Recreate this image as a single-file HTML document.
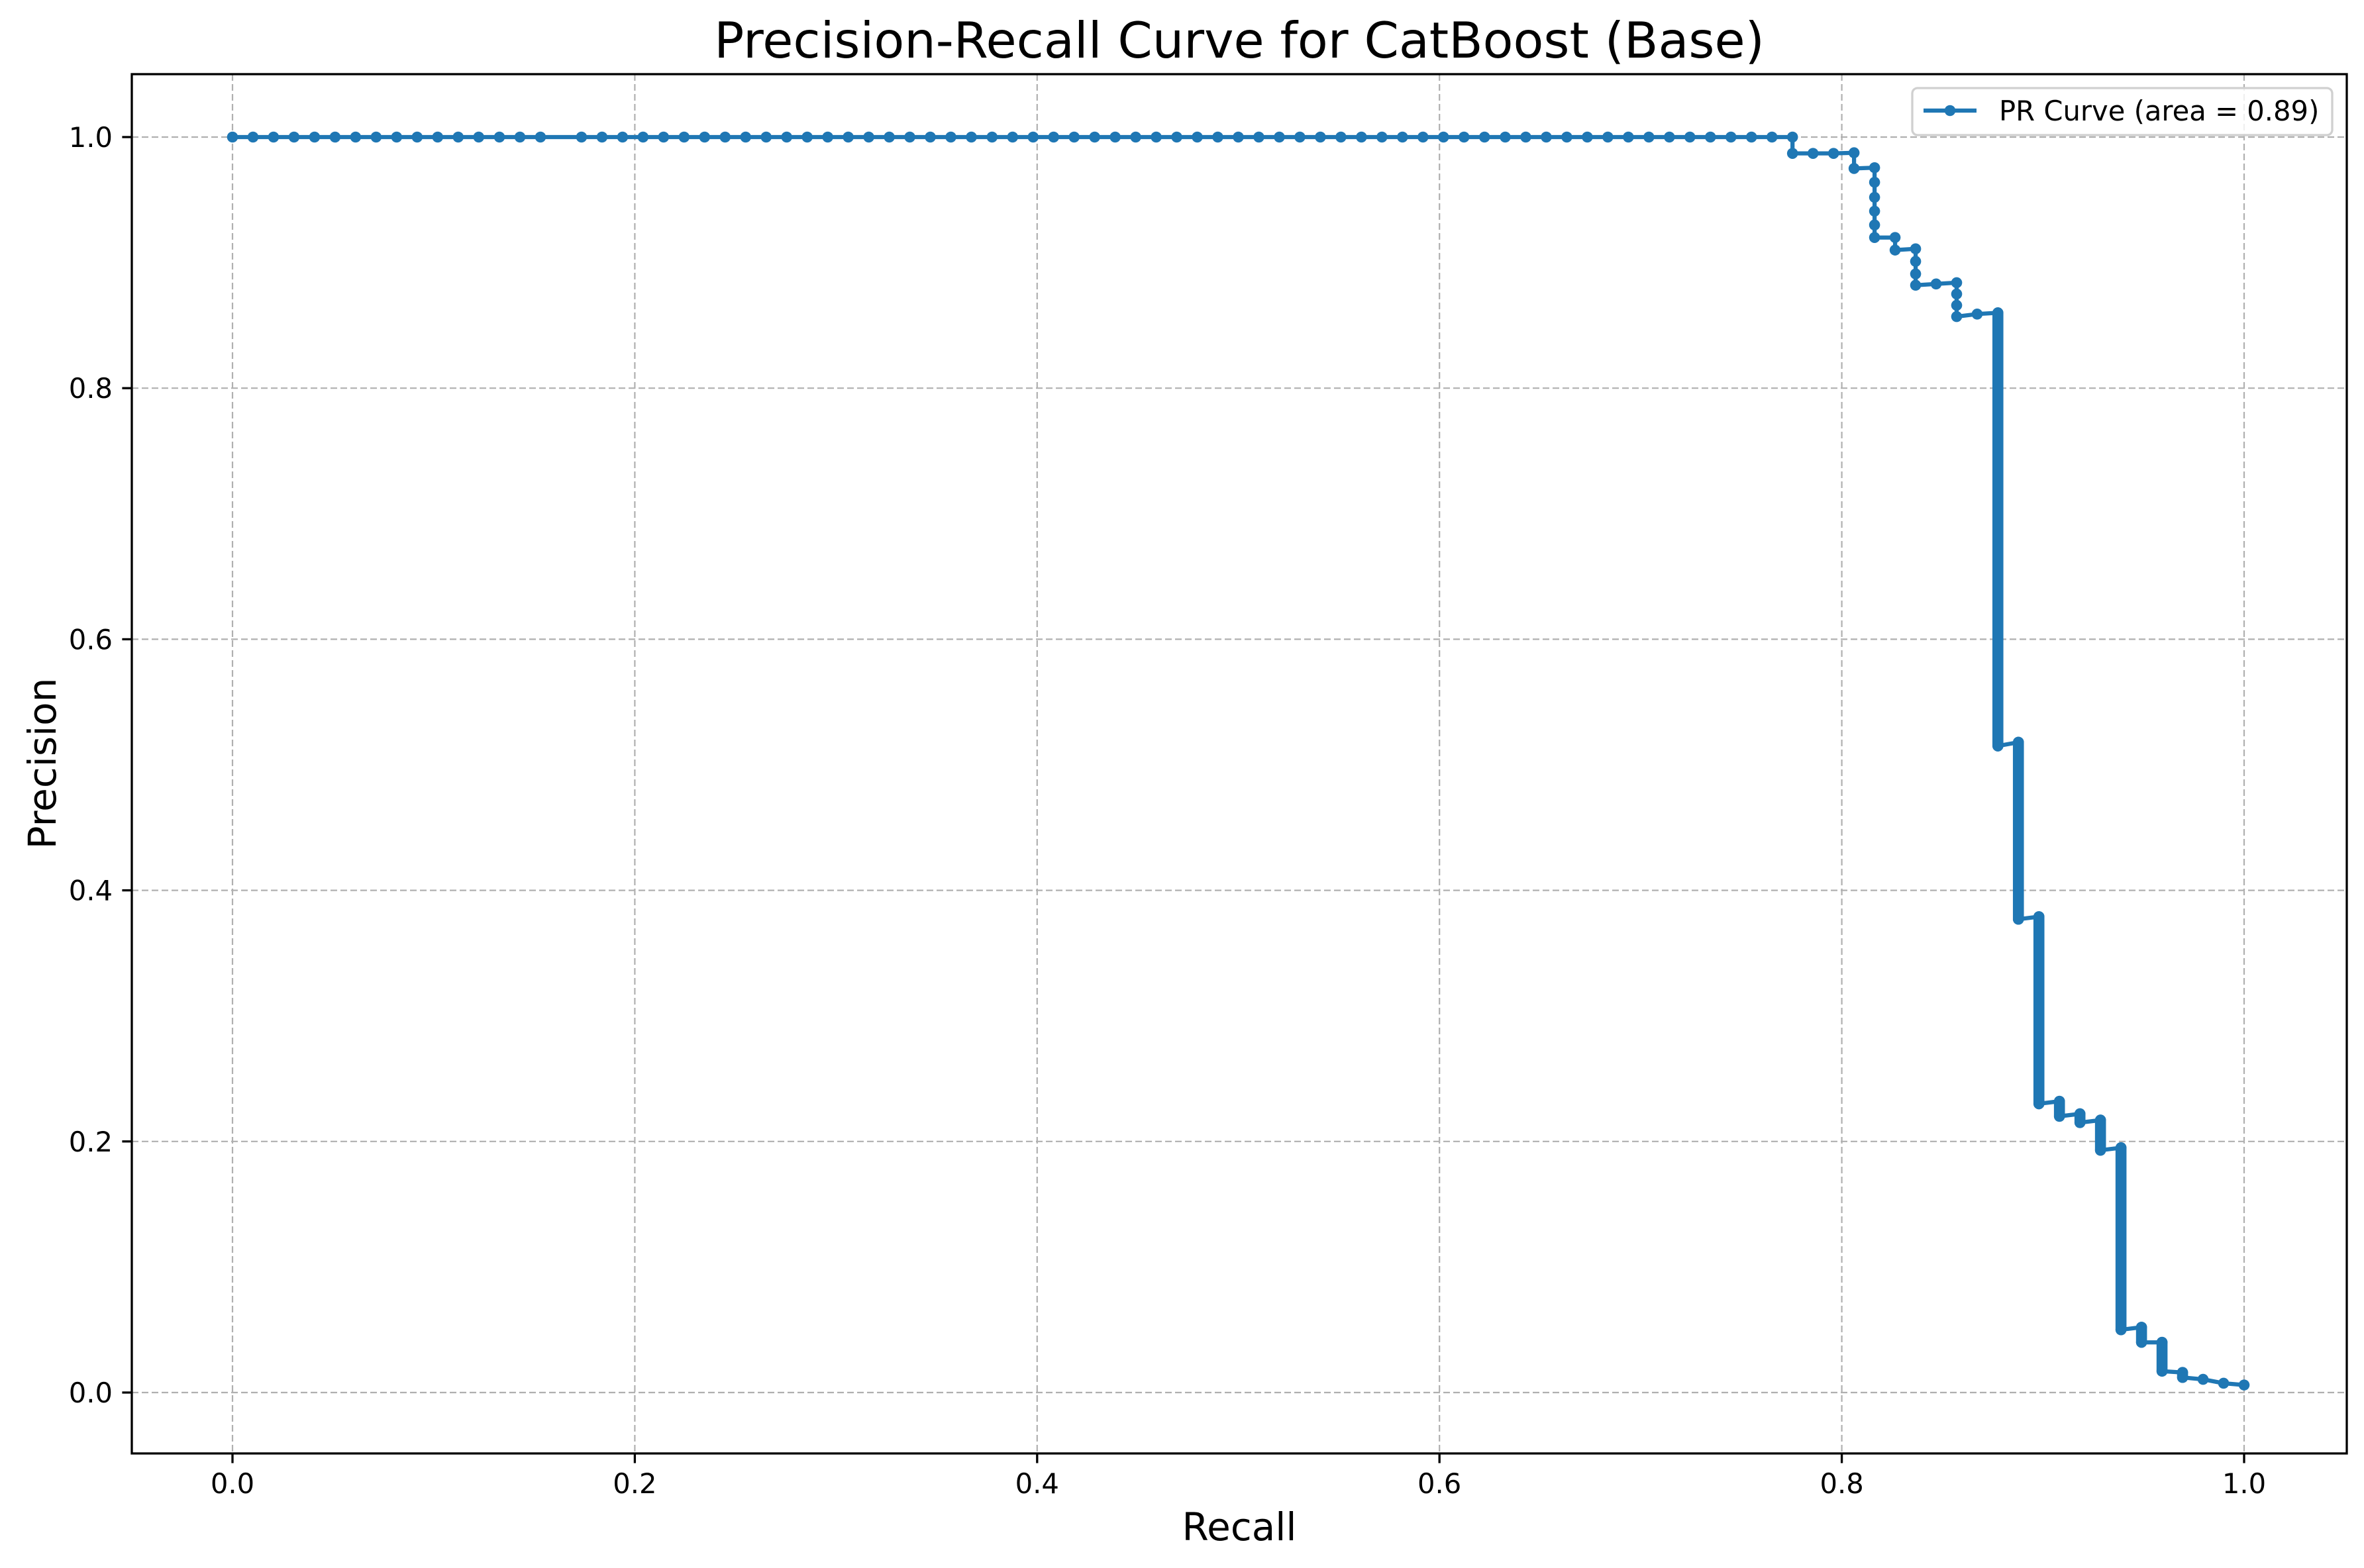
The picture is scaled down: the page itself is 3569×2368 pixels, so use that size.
<!DOCTYPE html>
<html><head><meta charset="utf-8">
<style>
html,body{margin:0;padding:0;background:#fff;}
svg{display:block;font-family:"DejaVu Sans","Liberation Sans",sans-serif;}
</style></head>
<body>
<svg id="chart" width="3569" height="2368" viewBox="0 0 3569 2368" xmlns="http://www.w3.org/2000/svg">
<rect x="0" y="0" width="3569" height="2368" fill="#fff"/>
<g id="grid"></g>
<g id="series"></g>
<g id="axes"></g>
<text x="1871" y="87" font-size="75" text-anchor="middle">Precision-Recall Curve for CatBoost (Base)</text>
<text x="1871" y="2326" font-size="58" text-anchor="middle">Recall</text>
<text x="0" y="0" font-size="58" text-anchor="middle" transform="translate(64,1153) rotate(-90)" dy="20">Precision</text>
<g>
<rect x="2887" y="133" width="634" height="71" rx="8" ry="8" fill="#fff" fill-opacity="0.8" stroke="#d0d0d0" stroke-width="3.3"/>
<line x1="2904" y1="167" x2="2984" y2="167" stroke="#1f77b4" stroke-width="6.25"/>
<circle cx="2944" cy="167" r="8.3" fill="#1f77b4"/>
<text x="3018" y="182" font-size="41.7">PR Curve (area = 0.89)</text>
</g>
</svg>
<script>
// ---- data ----
const recallPts = [0,0.0102,0.0204,0.0306,0.0408,0.0510,0.0612,0.0714,0.0816,0.0918,0.1020,0.1122,0.1224,0.1327,0.1429,0.1531,0.1735,0.1837,0.1939,0.2041,0.2143,0.2245,0.2347,0.2449,0.2551,0.2653,0.2755,0.2857,0.2959,0.3061,0.3163,0.3265,0.3367,0.3469,0.3571,0.3673,0.3776,0.3878,0.3980,0.4082,0.4184,0.4286,0.4388,0.4490,0.4592,0.4694,0.4796,0.4898,0.5,0.5102,0.5204,0.5306,0.5408,0.5510,0.5612,0.5714,0.5816,0.5918,0.6020,0.6122,0.6224,0.6327,0.6429,0.6531,0.6633,0.6735,0.6837,0.6939,0.7041,0.7143,0.7245,0.7347,0.7449,0.7551,0.7653,0.7755,
0.7755,0.7857,0.7959,0.8061,0.8061,0.8163,0.8163,0.8163,0.8163,0.8163,0.8163,0.8265,0.8265,0.8367,0.8367,0.8367,0.8367,0.8469,0.8571,0.8571,0.8571,0.8571,0.8673,0.8776,
0.8776,0.8878,0.8878,0.8980,0.8980,0.9082,0.9082,0.9184,0.9184,0.9286,0.9286,0.9388,0.9388,0.9490,0.9490,0.9592,0.9592,0.9694,0.9694,0.9796,0.9898,1.0];
const precisionPts = [1,1,1,1,1,1,1,1,1,1,1,1,1,1,1,1,1,1,1,1,1,1,1,1,1,1,1,1,1,1,1,1,1,1,1,1,1,1,1,1,1,1,1,1,1,1,1,1,1,1,1,1,1,1,1,1,1,1,1,1,1,1,1,1,1,1,1,1,1,1,1,1,1,1,1,1,
0.987,0.987,0.987,0.9875,0.975,0.9756,0.964,0.952,0.941,0.930,0.920,0.920,0.910,0.911,0.901,0.891,0.882,0.883,0.884,0.875,0.866,0.857,0.859,0.860,
0.515,0.518,0.377,0.379,0.230,0.232,0.220,0.222,0.215,0.217,0.193,0.195,0.050,0.052,0.040,0.040,0.017,0.016,0.012,0.0105,0.0074,0.006];
// 1 = the segment ending at this vertex is a densely-packed column of points
const denseFlag = [0,0,0,0,0,0,0,0,0,0,0,0,0,0,0,0,0,0,0,0,0,0,0,0,0,0,0,0,0,0,0,0,0,0,0,0,0,0,0,0,0,0,0,0,0,0,0,0,0,0,0,0,0,0,0,0,0,0,0,0,0,0,0,0,0,0,0,0,0,0,0,0,0,0,0,0,
0,0,0,0,0,0,0,0,0,0,0,0,0,0,0,0,0,0,0,0,0,0,0,0,
1,0,1,0,1,0,1,0,1,0,1,0,1,0,1,0,1,0,1,0,0,0];
const xTickVals = [0.0,0.2,0.4,0.6,0.8,1.0];
const xTickLabels = ["0.0","0.2","0.4","0.6","0.8","1.0"];
const yTickVals = [0.0,0.2,0.4,0.6,0.8,1.0];
const yTickLabels = ["0.0","0.2","0.4","0.6","0.8","1.0"];

// ---- layout ----
const AX = {left:199, right:3543, top:112, bottom:2195};
const X0 = 351, X1 = 3388, Y0 = 2103, Y1 = 207;
function sx(v){ return X0 + v*(X1-X0); }
function sy(v){ return Y0 + v*(Y1-Y0); }
const NS = "http://www.w3.org/2000/svg";
function mk(tag, attrs, parent){
  const el = document.createElementNS(NS, tag);
  for (const k in attrs) el.setAttribute(k, attrs[k]);
  parent.appendChild(el);
  return el;
}
const grid = document.getElementById('grid');
const axes = document.getElementById('axes');
const series = document.getElementById('series');

// grid
xTickVals.forEach((v,i)=>{
  const g = mk('line',{x1:sx(v),x2:sx(v),y1:AX.top,y2:AX.bottom,stroke:'#b0b0b0','stroke-width':2.2,'stroke-dasharray':'10,5'},grid);
  
  
});
yTickVals.forEach((v,i)=>{
  const g = mk('line',{x1:AX.left,x2:AX.right,y1:sy(v),y2:sy(v),stroke:'#b0b0b0','stroke-width':2.2,'stroke-dasharray':'10,5'},grid);
  
  
});

// series
let d = '';
recallPts.forEach((r,i)=>{ d += (i? 'L':'M') + sx(r).toFixed(1) + ',' + sy(precisionPts[i]).toFixed(1); });
const path = mk('path',{d:d,fill:'none',stroke:'#1f77b4','stroke-width':6.25,'stroke-linejoin':'round'},series);


for (let i=1;i<recallPts.length;i++){
  if (denseFlag[i]){
    const c = mk('line',{x1:sx(recallPts[i-1]),x2:sx(recallPts[i]),y1:sy(precisionPts[i-1]),y2:sy(precisionPts[i]),stroke:'#1f77b4','stroke-width':16.6,'stroke-linecap':'round'},series);
    
    
  }
}
recallPts.forEach((r,i)=>{
  const c = mk('circle',{cx:sx(r),cy:sy(precisionPts[i]),r:8.3,fill:'#1f77b4'},series);
  
  
});

// spines
const fr = mk('rect',{x:AX.left,y:AX.top,width:AX.right-AX.left,height:AX.bottom-AX.top,fill:'none',stroke:'#000','stroke-width':3.3},axes);



// ticks
xTickVals.forEach((v,i)=>{
  const t = mk('line',{x1:sx(v),x2:sx(v),y1:AX.bottom,y2:AX.bottom+14.6,stroke:'#000','stroke-width':3.3},axes);
  
  
  const l = mk('text',{x:sx(v),y:2255,'font-size':41.7,'text-anchor':'middle'},axes);
  l.textContent = xTickLabels[i];
  
  
});
yTickVals.forEach((v,i)=>{
  const t = mk('line',{x1:AX.left-14.6,x2:AX.left,y1:sy(v),y2:sy(v),stroke:'#000','stroke-width':3.3},axes);
  
  
  const l = mk('text',{x:AX.left-29,y:sy(v)+15,'font-size':41.7,'text-anchor':'end'},axes);
  l.textContent = yTickLabels[i];
  
  
});
</script>
</body></html>
